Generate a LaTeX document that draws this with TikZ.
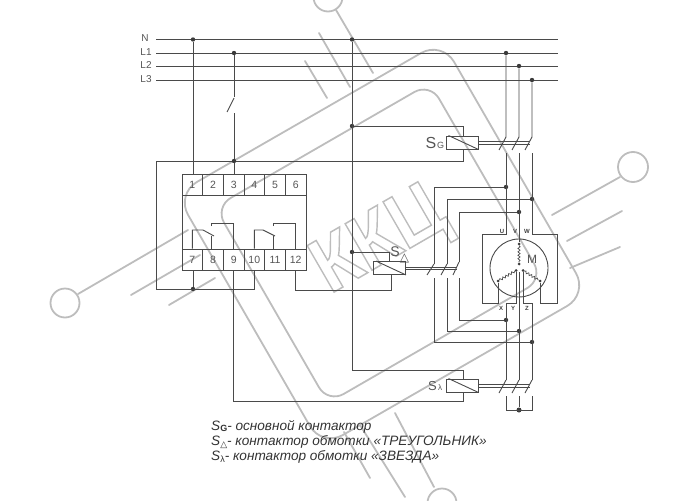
\documentclass[tikz,border=0pt]{standalone}
\usepackage{fontspec}
\setmainfont{Liberation Sans}
\newfontfamily\dejafont{DejaVu Sans}
\usetikzlibrary{decorations.pathmorphing}
\definecolor{wire}{HTML}{4A4A4A}
\definecolor{wm}{HTML}{BDBDBD}
\definecolor{lab}{HTML}{555555}
\tikzset{
  x=1pt,y=-1pt,
  wire/.style={draw=wire,line width=0.9pt},
  wmark/.style={draw=wm,line width=1.8pt,line cap=round},
  dotn/.style={circle,fill=wire!80!black,inner sep=0pt,minimum size=4.4pt},
  term/.style={rectangle,draw=wire,line width=0.9pt,minimum width=20.67pt,minimum height=21pt,inner sep=0pt,text=lab,font=\fontsize{10.5}{10.5}\selectfont},
  coilbox/.style={rectangle,draw=wire,line width=0.9pt,minimum width=32pt,minimum height=13pt,inner sep=0pt},
  lbl/.style={text=lab,inner sep=0pt,font=\fontsize{10}{10}\selectfont},
  mini/.style={text=black!75,inner sep=0pt,font=\bfseries\fontsize{6}{6}\selectfont},
  bigS/.style={text=lab,inner sep=0pt,font=\fontsize{16}{16}\selectfont},
  smallS/.style={text=lab,inner sep=0pt,font=\fontsize{9}{9}\selectfont},
  legend/.style={anchor=west,inner sep=0pt,text=black!80,font=\itshape\fontsize{13.6}{13.6}\selectfont},
  winding/.style={draw=wire,line width=0.7pt,decorate,decoration={snake,amplitude=1.1pt,segment length=3.4pt}}
}
\begin{document}
\begin{tikzpicture}
\useasboundingbox (0,0) rectangle (700,500);
\clip (0,0) rectangle (700,500);
% ---------- watermark ----------
\draw[wmark,rounded corners=24pt] (176,194) -- (442,41) -- (588,294) -- (322,447) -- cycle;
\draw[wmark,rounded corners=18pt] (215,207) -- (430,83) -- (543,279) -- (328,403) -- cycle;
\draw[wmark] (78,294) -- (188,230);
\draw[wmark] (131,295) -- (200,255);
\draw[wmark] (169,305) -- (215,278);
\draw[wmark] (65,303) circle[radius=14.5pt];
\draw[wmark] (552,215) -- (620,177);
\draw[wmark] (567,241) -- (622,211);
\draw[wmark] (570,268) -- (620,247);
\draw[wmark] (633,167) circle[radius=15pt];
\draw[wmark] (336,10) -- (373,73);
\draw[wmark] (319,33) -- (350,87);
\draw[wmark] (305,61) -- (327,98);
\draw[wmark] (328,-3) circle[radius=14.5pt];
\draw[wmark] (395,413) -- (434,487);
\draw[wmark] (344,432) -- (370,478);
\draw[wmark] (360,425) -- (405,497);
\draw[wmark] (442,503) circle[radius=14.5pt];
\node[rotate=30,inner sep=0pt,text=wm,xscale=0.92] (logo) at (381,243)
  {\special{pdf:code q 1 Tr 1.5 w 0.74 0.74 0.74 RG}\bfseries\fontsize{78}{78}\selectfont ККЦ\special{pdf:code Q}};
% ---------- buses ----------
\coordinate (nL) at (156,39.5); \coordinate (nR) at (558,39.5);
\coordinate (aL) at (156,53);   \coordinate (aR) at (558,53);
\coordinate (bL) at (156,66);   \coordinate (bR) at (558,66);
\coordinate (cL) at (156,80);   \coordinate (cR) at (558,80);
\draw[wire] (nL)--(nR) (aL)--(aR) (bL)--(bR) (cL)--(cR);
\node[lbl] (labN) at (145,38.5) {N};
\node[lbl] (labA) at (146,52.5) {L1};
\node[lbl] (labB) at (146,65.5) {L2};
\node[lbl] (labC) at (146,79.5) {L3};
% ---------- terminal block ----------
\draw[wire] (182,174) rectangle (306,270);
\foreach \n/\x/\t in {1/192.33/1,2/213/2,3/233.67/3,4/254.33/4,5/275/5,6/295.67/6}
  \node[term] (t\n) at (\x,184.5) {\t};
\foreach \n/\x/\t in {7/192.33/7,8/213/8,9/233.67/9,10/254.33/10,11/275/11,12/295.67/12}
  \node[term] (t\n) at (\x,259.5) {\t};
% internal contacts
\draw[wire] (t7.north) -- (192.33,230) -- (203,230) -- (214,236);
\draw[wire] (211.5,249) -- (211.5,236);
\draw[wire] (211,226) -- (211,223) -- (233.67,223) -- (t9.north);
\draw[wire] (t10.north) -- (254.33,230) -- (263,230) -- (275,236);
\draw[wire] (273,249) -- (273,236);
\draw[wire] (273,226) -- (273,223) -- (295.67,223) -- (t12.north);
% ---------- dots ----------
\node[dotn] (dN) at (193,39.5) {};
\node[dotn] (dL) at (234,53) {};
\node[dotn] (dJ) at (234,161) {};
\node[dotn] (dB) at (193,289) {};
\node[dotn] (nA) at (352,39.5) {};
\node[dotn] (nB) at (352,126) {};
\node[dotn] (nC) at (352,252) {};
\node[dotn] (p1) at (506,53) {};
\node[dotn] (p2) at (519,66) {};
\node[dotn] (p3) at (532,80) {};
\node[dotn] (u1) at (506,187) {};
\node[dotn] (u2) at (532,199) {};
\node[dotn] (u3) at (519,212) {};
\node[dotn] (l1) at (506,320) {};
\node[dotn] (l2) at (519,331) {};
\node[dotn] (l3) at (532,342) {};
\node[dotn,minimum size=5pt] (star) at (519,410) {};
% ---------- coils ----------
\node[coilbox] (cG) at (462,142.5) {};
\node[coilbox] (cD) at (389.5,268) {};
\node[coilbox] (cY) at (462,385.5) {};
\foreach \c in {cG,cD,cY} \draw[wire] (\c.north west) ++(3,0) -- (\c.south east);
% ---------- control wiring ----------
\draw[wire] (dN) -- (193,174);
\draw[wire] (dL) -- (234,97);
\draw[wire] (234,98) -- (227,112);
\draw[wire] (234,113) -- (dJ) -- (234,174);
\draw[wire] (193,270) -- (dB);
\draw[wire] (dJ) -- (156,161) -- (156,289) -- (254.33,289) -- (t10.south);
\draw[wire] (dJ) -- (463,161) -- (463,149);
\draw[wire] (nB) -- (463,126) -- (463,136);
\draw[wire] (nA) -- (352,370) -- (463,370) -- (463,379);
\draw[wire] (nC) -- (389,252) -- (389,262);
\draw[wire] (t12.south) -- (295.67,290) -- (391,290) -- (391,274.5);
\draw[wire] (t9.south) -- (233.67,401) -- (463,401) -- (463,392);
% ---------- actuator links ----------
\draw[wire] (cG.east) ++(0,-0.6) -- ++(52,0);
\draw[wire] (cG.east) ++(0,1.6) -- ++(52,0);
\draw[wire] (cD.east) ++(0,-1) -- ++(51,0);
\draw[wire] (cD.east) ++(0,1.2) -- ++(51,0);
\draw[wire] (cY.east) ++(0,-0.6) -- ++(52,0);
\draw[wire] (cY.east) ++(0,1.6) -- ++(52,0);
% ---------- main contacts SG ----------
\draw[wire] (p1) -- (506,137) -- (499,150);
\draw[wire] (p2) -- (519,137) -- (512,150);
\draw[wire] (p3) -- (532,137) -- (525,150);
% ---------- main contacts S-delta ----------
\draw[wire] (434,264) -- (427,275);
\draw[wire] (447,264) -- (441,275);
\draw[wire] (459,262) -- (453,275);
\draw[wire] (u1) -- (434,187) -- (434,264);
\draw[wire] (u2) -- (447,199) -- (447,264);
\draw[wire] (u3) -- (459,212) -- (459,262);
\draw[wire] (434,278) -- (434,342) -- (l3);
\draw[wire] (447,278) -- (447,331) -- (l2);
\draw[wire] (459,278) -- (459,320) -- (l1);
% ---------- main contacts S-lambda ----------
\draw[wire] (506,380) -- (499,393);
\draw[wire] (519,380) -- (512,393);
\draw[wire] (532,380) -- (525,393);
\draw[wire] (506,396) -- (506,410) -- (532,410) -- (532,396);
\draw[wire] (519,396) -- (star);
% ---------- motor ----------
\node[circle,draw=wire,line width=0.9pt,minimum size=58pt,inner sep=0pt] (motor) at (519,268) {};
\node[dotn,minimum size=3pt] (mV) at (519,244) {};
\node[dotn,minimum size=3pt] (mC) at (519,264) {};
\node[dotn,minimum size=3pt] (mX1) at (498,281) {};
\node[dotn,minimum size=3pt] (mX2) at (516,270.5) {};
\node[dotn,minimum size=3pt] (mZ1) at (523,270.5) {};
\node[dotn,minimum size=3pt] (mZ2) at (540,281) {};
\draw[winding] (mV) -- (mC);
\draw[winding] (mX1) -- (mX2);
\draw[winding] (mZ1) -- (mZ2);
\draw[wire] (506,153) -- (506,234) -- (482,234) -- (482,303) -- (498,303) -- (mX1);
\draw[wire] (532,153) -- (532,234) -- (557,234) -- (557,303) -- (540,303) -- (mZ2);
\draw[wire] (519,153) -- (mV);
\draw[wire] (mX2) -- (516,303) -- (506,303) -- (506,380);
\draw[wire] (mZ1) -- (523,303) -- (532,303) -- (532,380);
\draw[wire] (519,272) -- (519,380);
\node[mini] (mU) at (502,231) {U};
\node[mini] (mVl) at (515,231) {V};
\node[mini] (mW) at (527,231) {W};
\node[mini] (mXl) at (501,308) {X};
\node[mini] (mYl) at (513,308) {Y};
\node[mini] (mZl) at (527,308) {Z};
\node[lbl,font=\fontsize{12}{12}\selectfont] (mM) at (532,259) {M};
% ---------- coil labels ----------
\node[bigS] (sg) at (431,143) {S};
\node[smallS] (sgb) at (440.5,145) {G};
\node[bigS,font=\fontsize{14}{14}\selectfont] (sd) at (395,251.5) {S};
\node[smallS,font=\dejafont\fontsize{12}{12}\selectfont] (sdb) at (404.5,258) {△};
\node[bigS,font=\fontsize{13}{13}\selectfont] (sy) at (432.5,386) {S};
\node[smallS,font=\fontsize{8}{8}\selectfont] (syb) at (440,388) {λ};
% ---------- legend ----------
\node[legend] (leg1) at (211,426.5) {S\raisebox{-1.5pt}{\upshape\bfseries\fontsize{9}{9}\selectfont G}- основной контактор};
\node[legend] (leg2) at (211,442) {S\raisebox{-1.5pt}{\upshape\dejafont\fontsize{9}{9}\selectfont △}- контактор обмотки «ТРЕУГОЛЬНИК»};
\node[legend] (leg3) at (211,457) {S\raisebox{-1.5pt}{\upshape\fontsize{9}{9}\selectfont λ}- контактор обмотки «ЗВЕЗДА»};
\end{tikzpicture}
\end{document}
